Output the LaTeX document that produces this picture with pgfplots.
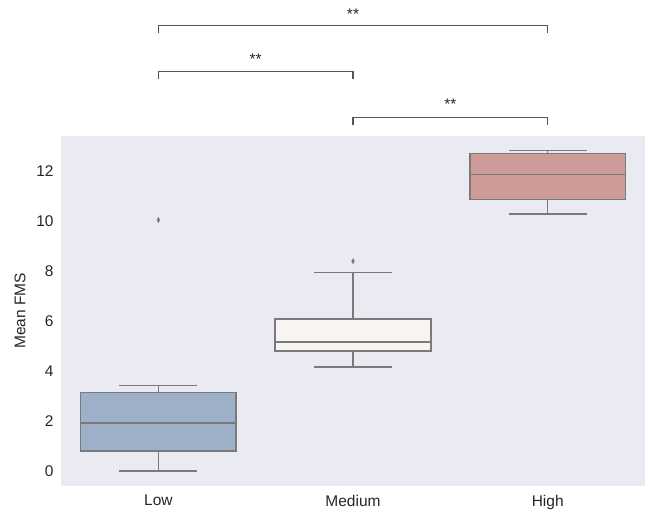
\documentclass[border=0pt]{standalone}
\usepackage{pgfplots}
\pgfplotsset{compat=1.18}
\usepgfplotslibrary{statistics}
\usepackage{fontspec}
\setmainfont{Liberation Sans}
\definecolor{bgc}{HTML}{EAEAF2}
\definecolor{lowc}{HTML}{9EAFC8}
\definecolor{medc}{HTML}{F7F4F2}
\definecolor{highc}{HTML}{CF9B99}
\definecolor{linec}{HTML}{7A7A7A}
\definecolor{txtc}{HTML}{262626}
\definecolor{brc}{HTML}{555555}
\begin{document}
\begin{tikzpicture}
\begin{axis}[
  width=584bp, height=350bp, scale only axis,
  axis background/.style={fill=bgc},
  axis line style={draw=none},
  major tick length=0pt,
  xmin=-0.5, xmax=2.5, ymin=-0.6, ymax=13.43,
  xtick={0,1,2}, xticklabels={Low,Medium,High},
  ytick={0,2,4,6,8,10,12},
  /pgf/number format/assume math mode=true,
  tick label style={font=\fontsize{15.5bp}{18bp}\selectfont, text=txtc},
  yticklabel style={xshift=-4bp},
  xticklabel style={yshift=-6bp},
  ylabel={Mean FMS},
  ylabel style={font=\fontsize{15.5bp}{18bp}\selectfont, text=txtc, yshift=4bp},
  clip=false,
  boxplot/draw direction=y,
]
\path (rel axis cs:-0.1045,-0.078) rectangle (rel axis cs:1.0051,1.3877);
\addplot[draw=linec, fill=lowc, line width=1.6bp, solid,
  boxplot prepared={draw position=0, median=1.92, upper quartile=3.14, lower quartile=0.79,
  upper whisker=3.41, lower whisker=0, box extend=0.8, whisker extend=0.4}] coordinates {};
\addplot[draw=linec, fill=medc, line width=1.6bp, solid,
  boxplot prepared={draw position=1, median=5.16, upper quartile=6.07, lower quartile=4.80,
  upper whisker=7.94, lower whisker=4.16, box extend=0.8, whisker extend=0.4}] coordinates {};
\addplot[draw=linec, fill=highc, line width=1.6bp, solid,
  boxplot prepared={draw position=2, median=11.88, upper quartile=12.72, lower quartile=10.88,
  upper whisker=12.83, lower whisker=10.30, box extend=0.8, whisker extend=0.4}] coordinates {};
\addplot[only marks, mark=diamond*, mark size=2.6bp, mark options={fill=linec, draw=linec, xscale=0.7}]
  coordinates {(0,10.05) (1,8.40)};
% significance brackets
\addplot[brc, line width=1.2bp, mark=none] coordinates {(0,17.53) (0,17.84) (2,17.84) (2,17.53)};
\addplot[brc, line width=1.2bp, mark=none] coordinates {(0,15.69) (0,16.01) (1,16.01) (1,15.69)};
\addplot[brc, line width=1.2bp, mark=none] coordinates {(1,13.85) (1,14.15) (2,14.15) (2,13.85)};
\node[font=\fontsize{15.5bp}{18bp}\selectfont, text=txtc] at (axis cs:1,18.30) {**};
\node[font=\fontsize{15.5bp}{18bp}\selectfont, text=txtc] at (axis cs:0.5,16.50) {**};
\node[font=\fontsize{15.5bp}{18bp}\selectfont, text=txtc] at (axis cs:1.5,14.68) {**};
\end{axis}
\end{tikzpicture}
\end{document}
